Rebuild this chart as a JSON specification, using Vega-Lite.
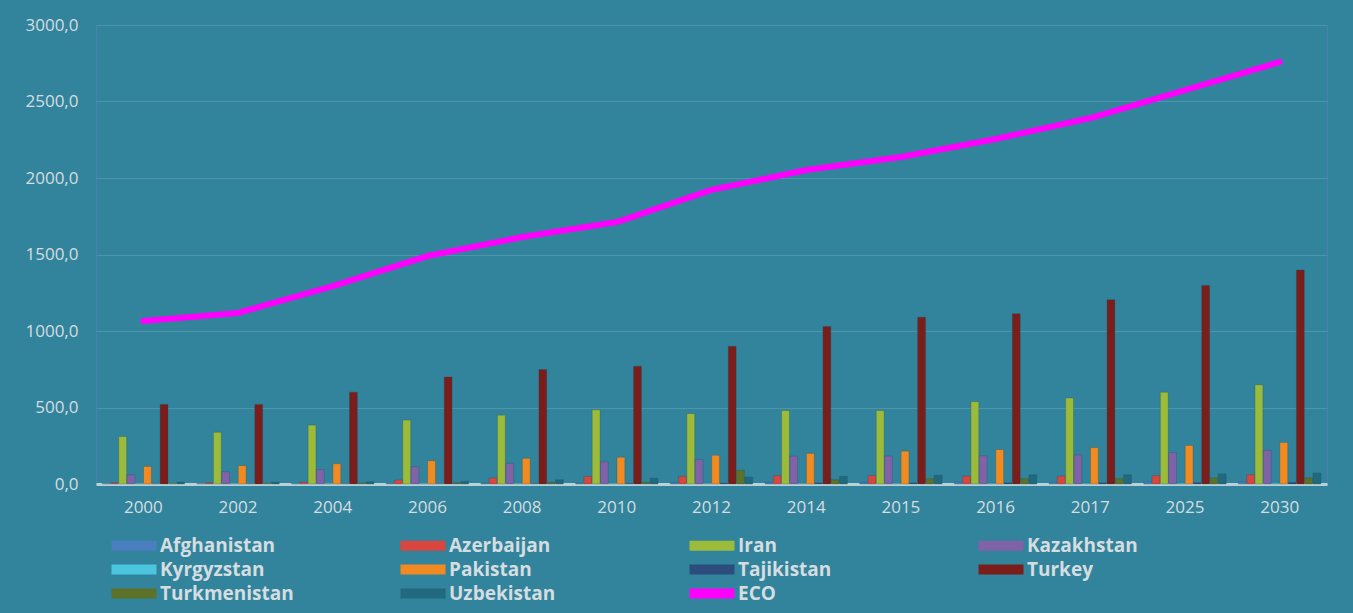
{
  "$schema": "https://vega.github.io/schema/vega-lite/v6.json",
  "width": 1231,
  "height": 459,
  "autosize": {"type": "none"},
  "padding": {"left": 96, "top": 25, "right": 26, "bottom": 129},
  "background": "#31849b",
  "config": {
    "view": {"stroke": "#4d7fae", "strokeWidth": 1},
    "font": "Open Sans",
    "axis": {
      "labelFont": "Open Sans",
      "labelColor": "#d6dde0",
      "labelFontSize": 17,
      "titleColor": "#d6dde0"
    }
  },
  "datasets": {
    "bars": [
      {"year": "2000", "country": "Afghanistan", "value": 3},
      {"year": "2000", "country": "Azerbaijan", "value": 8},
      {"year": "2000", "country": "Iran", "value": 310},
      {"year": "2000", "country": "Kazakhstan", "value": 60},
      {"year": "2000", "country": "Kyrgyzstan", "value": 3},
      {"year": "2000", "country": "Pakistan", "value": 115},
      {"year": "2000", "country": "Tajikistan", "value": 3},
      {"year": "2000", "country": "Turkey", "value": 520},
      {"year": "2000", "country": "Turkmenistan", "value": 4},
      {"year": "2000", "country": "Uzbekistan", "value": 13},

      {"year": "2002", "country": "Afghanistan", "value": 3},
      {"year": "2002", "country": "Azerbaijan", "value": 8},
      {"year": "2002", "country": "Iran", "value": 338},
      {"year": "2002", "country": "Kazakhstan", "value": 80},
      {"year": "2002", "country": "Kyrgyzstan", "value": 3},
      {"year": "2002", "country": "Pakistan", "value": 120},
      {"year": "2002", "country": "Tajikistan", "value": 3},
      {"year": "2002", "country": "Turkey", "value": 520},
      {"year": "2002", "country": "Turkmenistan", "value": 5},
      {"year": "2002", "country": "Uzbekistan", "value": 13},

      {"year": "2004", "country": "Afghanistan", "value": 4},
      {"year": "2004", "country": "Azerbaijan", "value": 12},
      {"year": "2004", "country": "Iran", "value": 385},
      {"year": "2004", "country": "Kazakhstan", "value": 95},
      {"year": "2004", "country": "Kyrgyzstan", "value": 3},
      {"year": "2004", "country": "Pakistan", "value": 133},
      {"year": "2004", "country": "Tajikistan", "value": 3},
      {"year": "2004", "country": "Turkey", "value": 600},
      {"year": "2004", "country": "Turkmenistan", "value": 6},
      {"year": "2004", "country": "Uzbekistan", "value": 15},

      {"year": "2006", "country": "Afghanistan", "value": 5},
      {"year": "2006", "country": "Azerbaijan", "value": 26},
      {"year": "2006", "country": "Iran", "value": 418},
      {"year": "2006", "country": "Kazakhstan", "value": 113},
      {"year": "2006", "country": "Kyrgyzstan", "value": 3},
      {"year": "2006", "country": "Pakistan", "value": 152},
      {"year": "2006", "country": "Tajikistan", "value": 3},
      {"year": "2006", "country": "Turkey", "value": 700},
      {"year": "2006", "country": "Turkmenistan", "value": 8},
      {"year": "2006", "country": "Uzbekistan", "value": 18},

      {"year": "2008", "country": "Afghanistan", "value": 6},
      {"year": "2008", "country": "Azerbaijan", "value": 40},
      {"year": "2008", "country": "Iran", "value": 450},
      {"year": "2008", "country": "Kazakhstan", "value": 135},
      {"year": "2008", "country": "Kyrgyzstan", "value": 4},
      {"year": "2008", "country": "Pakistan", "value": 168},
      {"year": "2008", "country": "Tajikistan", "value": 4},
      {"year": "2008", "country": "Turkey", "value": 748},
      {"year": "2008", "country": "Turkmenistan", "value": 10},
      {"year": "2008", "country": "Uzbekistan", "value": 28},

      {"year": "2010", "country": "Afghanistan", "value": 6},
      {"year": "2010", "country": "Azerbaijan", "value": 50},
      {"year": "2010", "country": "Iran", "value": 485},
      {"year": "2010", "country": "Kazakhstan", "value": 145},
      {"year": "2010", "country": "Kyrgyzstan", "value": 4},
      {"year": "2010", "country": "Pakistan", "value": 175},
      {"year": "2010", "country": "Tajikistan", "value": 5},
      {"year": "2010", "country": "Turkey", "value": 770},
      {"year": "2010", "country": "Turkmenistan", "value": 12},
      {"year": "2010", "country": "Uzbekistan", "value": 38},

      {"year": "2012", "country": "Afghanistan", "value": 10},
      {"year": "2012", "country": "Azerbaijan", "value": 50},
      {"year": "2012", "country": "Iran", "value": 460},
      {"year": "2012", "country": "Kazakhstan", "value": 160},
      {"year": "2012", "country": "Kyrgyzstan", "value": 5},
      {"year": "2012", "country": "Pakistan", "value": 188},
      {"year": "2012", "country": "Tajikistan", "value": 6},
      {"year": "2012", "country": "Turkey", "value": 900},
      {"year": "2012", "country": "Turkmenistan", "value": 90},
      {"year": "2012", "country": "Uzbekistan", "value": 45},

      {"year": "2014", "country": "Afghanistan", "value": 10},
      {"year": "2014", "country": "Azerbaijan", "value": 55},
      {"year": "2014", "country": "Iran", "value": 480},
      {"year": "2014", "country": "Kazakhstan", "value": 182},
      {"year": "2014", "country": "Kyrgyzstan", "value": 5},
      {"year": "2014", "country": "Pakistan", "value": 200},
      {"year": "2014", "country": "Tajikistan", "value": 7},
      {"year": "2014", "country": "Turkey", "value": 1030},
      {"year": "2014", "country": "Turkmenistan", "value": 28},
      {"year": "2014", "country": "Uzbekistan", "value": 50},

      {"year": "2015", "country": "Afghanistan", "value": 10},
      {"year": "2015", "country": "Azerbaijan", "value": 55},
      {"year": "2015", "country": "Iran", "value": 480},
      {"year": "2015", "country": "Kazakhstan", "value": 183},
      {"year": "2015", "country": "Kyrgyzstan", "value": 5},
      {"year": "2015", "country": "Pakistan", "value": 215},
      {"year": "2015", "country": "Tajikistan", "value": 7},
      {"year": "2015", "country": "Turkey", "value": 1090},
      {"year": "2015", "country": "Turkmenistan", "value": 35},
      {"year": "2015", "country": "Uzbekistan", "value": 58},

      {"year": "2016", "country": "Afghanistan", "value": 13},
      {"year": "2016", "country": "Azerbaijan", "value": 52},
      {"year": "2016", "country": "Iran", "value": 538},
      {"year": "2016", "country": "Kazakhstan", "value": 185},
      {"year": "2016", "country": "Kyrgyzstan", "value": 6},
      {"year": "2016", "country": "Pakistan", "value": 225},
      {"year": "2016", "country": "Tajikistan", "value": 8},
      {"year": "2016", "country": "Turkey", "value": 1113},
      {"year": "2016", "country": "Turkmenistan", "value": 35},
      {"year": "2016", "country": "Uzbekistan", "value": 60},

      {"year": "2017", "country": "Afghanistan", "value": 12},
      {"year": "2017", "country": "Azerbaijan", "value": 52},
      {"year": "2017", "country": "Iran", "value": 562},
      {"year": "2017", "country": "Kazakhstan", "value": 190},
      {"year": "2017", "country": "Kyrgyzstan", "value": 6},
      {"year": "2017", "country": "Pakistan", "value": 238},
      {"year": "2017", "country": "Tajikistan", "value": 8},
      {"year": "2017", "country": "Turkey", "value": 1205},
      {"year": "2017", "country": "Turkmenistan", "value": 35},
      {"year": "2017", "country": "Uzbekistan", "value": 60},

      {"year": "2025", "country": "Afghanistan", "value": 15},
      {"year": "2025", "country": "Azerbaijan", "value": 55},
      {"year": "2025", "country": "Iran", "value": 600},
      {"year": "2025", "country": "Kazakhstan", "value": 205},
      {"year": "2025", "country": "Kyrgyzstan", "value": 7},
      {"year": "2025", "country": "Pakistan", "value": 252},
      {"year": "2025", "country": "Tajikistan", "value": 9},
      {"year": "2025", "country": "Turkey", "value": 1298},
      {"year": "2025", "country": "Turkmenistan", "value": 40},
      {"year": "2025", "country": "Uzbekistan", "value": 66},

      {"year": "2030", "country": "Afghanistan", "value": 15},
      {"year": "2030", "country": "Azerbaijan", "value": 60},
      {"year": "2030", "country": "Iran", "value": 648},
      {"year": "2030", "country": "Kazakhstan", "value": 220},
      {"year": "2030", "country": "Kyrgyzstan", "value": 8},
      {"year": "2030", "country": "Pakistan", "value": 272},
      {"year": "2030", "country": "Tajikistan", "value": 10},
      {"year": "2030", "country": "Turkey", "value": 1398},
      {"year": "2030", "country": "Turkmenistan", "value": 40},
      {"year": "2030", "country": "Uzbekistan", "value": 72}
    ],
    "eco": [
      {"year": "2000", "series": "ECO", "value": 1065},
      {"year": "2002", "series": "ECO", "value": 1118},
      {"year": "2004", "series": "ECO", "value": 1294},
      {"year": "2006", "series": "ECO", "value": 1490},
      {"year": "2008", "series": "ECO", "value": 1614},
      {"year": "2010", "series": "ECO", "value": 1712},
      {"year": "2012", "series": "ECO", "value": 1922},
      {"year": "2014", "series": "ECO", "value": 2052},
      {"year": "2015", "series": "ECO", "value": 2137},
      {"year": "2016", "series": "ECO", "value": 2255},
      {"year": "2017", "series": "ECO", "value": 2392},
      {"year": "2025", "series": "ECO", "value": 2575},
      {"year": "2030", "series": "ECO", "value": 2758}
    ]
  },
  "encoding": {
    "x": {
      "field": "year",
      "type": "nominal",
      "sort": null,
      "scale": {"paddingInner": 0.13, "paddingOuter": 0.065},
      "axis": {
        "title": null,
        "labelAngle": 0,
        "ticks": false,
        "labelPadding": 15,
        "domainColor": "#bcd0d8",
        "domainWidth": 3
      }
    },
    "y": {
      "field": "value",
      "type": "quantitative",
      "scale": {"domain": [0, 3000], "nice": false},
      "axis": {
        "title": null,
        "values": [0, 500, 1000, 1500, 2000, 2500, 3000],
        "labelExpr": "replace(format(datum.value, '.1f'), '.', ',')",
        "ticks": false,
        "domain": false,
        "labelPadding": 18,
        "gridColor": "#4e95aa",
        "gridWidth": 1
      }
    }
  },
  "layer": [
    {
      "data": {"name": "bars"},
      "mark": {"type": "bar", "stroke": "#1d4f5e", "strokeWidth": 0.5, "strokeOpacity": 0.6},
      "encoding": {
        "xOffset": {
          "field": "country",
          "type": "nominal",
          "sort": ["Afghanistan", "Azerbaijan", "Iran", "Kazakhstan", "Kyrgyzstan", "Pakistan", "Tajikistan", "Turkey", "Turkmenistan", "Uzbekistan"],
          "scale": {"paddingInner": 0.05}
        },
        "color": {
          "field": "country",
          "type": "nominal",
          "scale": {
            "domain": ["Afghanistan", "Azerbaijan", "Iran", "Kazakhstan", "Kyrgyzstan", "Pakistan", "Tajikistan", "Turkey", "Turkmenistan", "Uzbekistan", "ECO"],
            "range": ["#4a7ec0", "#d9453f", "#9dbb3a", "#8062a8", "#4cc6df", "#f28a22", "#2b4c7c", "#7a1d1b", "#5d7128", "#20697f", "#ff00ff"]
          },
          "legend": {
            "title": null,
            "orient": "none",
            "legendX": 6,
            "legendY": 511,
            "columns": 4,
            "direction": "horizontal",
            "gridAlign": "all",
            "symbolType": "M0,-1L9,-1L9,1L0,1Z",
            "symbolSize": 100,
            "symbolStrokeWidth": 0,
            "symbolOpacity": 1,
            "labelFont": "Open Sans",
            "labelFontSize": 19,
            "labelFontWeight": "bold",
            "labelColor": "#d6dde0",
            "labelOffset": 39,
            "labelLimit": 300,
            "columnPadding": 97,
            "rowPadding": 4
          }
        }
      }
    },
    {
      "data": {"name": "eco"},
      "mark": {"type": "line", "strokeWidth": 6, "strokeCap": "round", "strokeJoin": "round"},
      "encoding": {
        "color": {"field": "series", "type": "nominal"}
      }
    }
  ]
}
